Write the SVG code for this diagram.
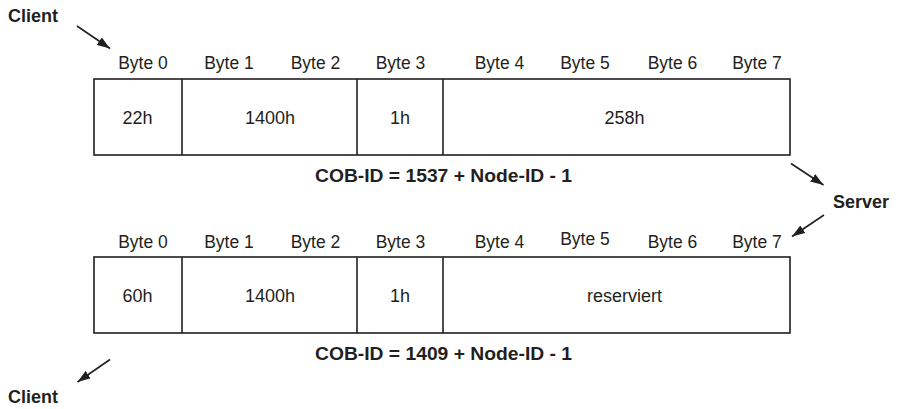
<svg xmlns="http://www.w3.org/2000/svg" width="898" height="409" viewBox="0 0 898 409">
<style>
.box{fill:#fff;stroke:#231f20;stroke-width:1.6}
.div{stroke:#231f20;stroke-width:1.6}
.lbl{font-family:"Liberation Sans",Arial,sans-serif;font-size:17.5px;fill:#231f20;text-anchor:middle}
.val{font-family:"Liberation Sans",Arial,sans-serif;font-size:18px;fill:#231f20;text-anchor:middle}
.bold{font-family:"Liberation Sans",Arial,sans-serif;font-size:18px;font-weight:bold;fill:#231f20}
.cob{font-family:"Liberation Sans",Arial,sans-serif;font-size:18.5px;font-weight:bold;fill:#231f20;text-anchor:middle}
.arr{stroke:#231f20;stroke-width:1.6;fill:none;marker-end:url(#ah)}
</style>
<defs>
<marker id="ah" viewBox="0 0 13 9" refX="13" refY="4.5" markerWidth="13" markerHeight="9" markerUnits="userSpaceOnUse" orient="auto">
<path d="M0,0 L13,4.5 L0,9 Z" fill="#231f20"/>
</marker>
</defs>
<g id="frame1">
<rect class="box" x="94" y="79" width="696" height="76"/>
<line class="div" x1="182" y1="79" x2="182" y2="155"/>
<line class="div" x1="357" y1="79" x2="357" y2="155"/>
<line class="div" x1="443" y1="79" x2="443" y2="155"/>
<text class="lbl" x="143" y="69">Byte 0</text>
<text class="lbl" x="229" y="69">Byte 1</text>
<text class="lbl" x="315.5" y="69">Byte 2</text>
<text class="lbl" x="400.5" y="69">Byte 3</text>
<text class="lbl" x="499.5" y="69">Byte 4</text>
<text class="lbl" x="585" y="69">Byte 5</text>
<text class="lbl" x="672.5" y="69">Byte 6</text>
<text class="lbl" x="757" y="69">Byte 7</text>
<text class="val" x="137.5" y="124">22h</text>
<text class="val" x="270" y="124">1400h</text>
<text class="val" x="400" y="124">1h</text>
<text class="val" x="624.5" y="124">258h</text>
<text class="cob" x="443.5" y="182" textLength="257" lengthAdjust="spacingAndGlyphs">COB-ID = 1537 + Node-ID - 1</text>
</g>
<g id="frame2">
<rect class="box" x="94" y="257" width="696" height="76"/>
<line class="div" x1="182" y1="257" x2="182" y2="333"/>
<line class="div" x1="357" y1="257" x2="357" y2="333"/>
<line class="div" x1="443" y1="257" x2="443" y2="333"/>
<text class="lbl" x="143" y="248">Byte 0</text>
<text class="lbl" x="229" y="248">Byte 1</text>
<text class="lbl" x="315.5" y="248">Byte 2</text>
<text class="lbl" x="400.5" y="248">Byte 3</text>
<text class="lbl" x="499.5" y="248">Byte 4</text>
<text class="lbl" x="585" y="245">Byte 5</text>
<text class="lbl" x="672.5" y="248">Byte 6</text>
<text class="lbl" x="757" y="248">Byte 7</text>
<text class="val" x="137.5" y="302">60h</text>
<text class="val" x="270" y="302">1400h</text>
<text class="val" x="400" y="302">1h</text>
<text class="val" x="624.5" y="302">reserviert</text>
<text class="cob" x="443.5" y="360" textLength="257" lengthAdjust="spacingAndGlyphs">COB-ID = 1409 + Node-ID - 1</text>
</g>
<g id="client-top"><text class="bold" x="8" y="22">Client</text></g>
<g id="server"><text class="bold" x="833" y="208">Server</text></g>
<g id="client-bottom"><text class="bold" x="8" y="403">Client</text></g>
<g id="connectors">
<line class="arr" x1="77" y1="26" x2="110" y2="48.5"/>
<line class="arr" x1="791" y1="163.5" x2="823.5" y2="185"/>
<line class="arr" x1="824" y1="215" x2="792" y2="236.5"/>
<line class="arr" x1="110" y1="359.5" x2="77.5" y2="382"/>
</g>
</svg>
